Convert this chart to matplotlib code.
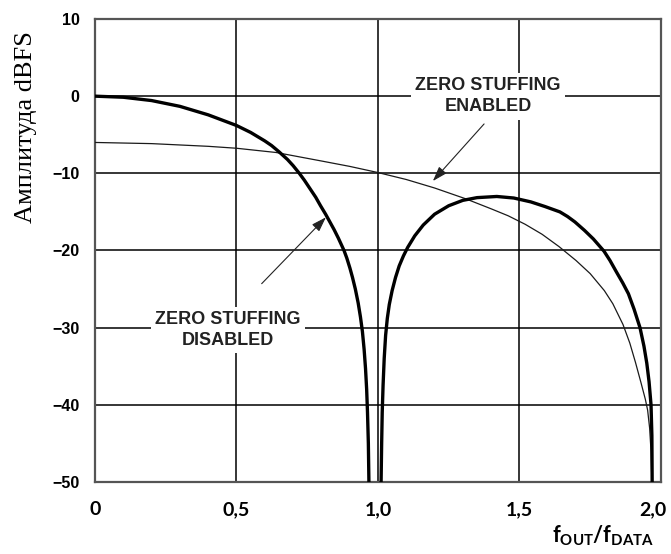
import matplotlib
matplotlib.use("Agg")
import matplotlib.pyplot as plt
import matplotlib.transforms as mtransforms
from matplotlib import rcParams

rcParams["mathtext.fontset"] = "custom"
rcParams["mathtext.bf"] = "Lato:bold"
rcParams["mathtext.rm"] = "Lato"

# zero stuffing disabled (thick), main lobe and second lobe
lobe1_x = [0, 0.1, 0.2, 0.3, 0.4, 0.5, 0.55, 0.6, 0.624, 0.65, 0.68, 0.70, 0.722, 0.74,
           0.76, 0.78, 0.797, 0.815, 0.83, 0.845, 0.86, 0.87, 0.88, 0.89, 0.901, 0.91,
           0.92, 0.93, 0.938, 0.945, 0.951, 0.956, 0.96, 0.963, 0.966, 0.968]
lobe1_db = [0, -0.14, -0.57, -1.32, -2.42, -3.8, -4.7, -5.8, -6.4, -7.2, -8.2, -9.0,
            -10.0, -10.9, -12.0, -13.1, -14.2, -15.3, -16.3, -17.3, -18.4, -19.2, -20.0,
            -21.0, -22.3, -23.5, -25.0, -26.8, -28.6, -30.5, -32.8, -35.3, -38, -41, -45,
            -50]
lobe2_x = [1.011, 1.013, 1.015, 1.018, 1.022, 1.027, 1.033, 1.04, 1.05, 1.062, 1.075,
           1.09, 1.105, 1.13, 1.16, 1.2, 1.25, 1.3, 1.35, 1.42, 1.48, 1.54, 1.59, 1.643,
           1.67, 1.696, 1.73, 1.761, 1.78, 1.799, 1.82, 1.843, 1.865, 1.885, 1.905, 1.926,
           1.94, 1.95, 1.958, 1.965, 1.968, 1.969]
lobe2_db = [-50, -45, -41, -37.5, -34, -31, -28.8, -27.0, -25.2, -23.5, -22.0, -20.7,
            -19.6, -18.1, -16.7, -15.3, -14.2, -13.5, -13.15, -13.0, -13.2, -13.7, -14.3,
            -15.0, -15.6, -16.3, -17.4, -18.5, -19.3, -20.1, -21.3, -22.8, -24.2, -25.6,
            -27.6, -30, -32.4, -34.6, -37, -40, -44, -50]

# zero stuffing enabled (thin)
enabled_x = [0, 0.2, 0.4, 0.5, 0.64, 0.8, 0.9, 1.0, 1.1, 1.2, 1.31, 1.4, 1.46, 1.52,
             1.58, 1.64, 1.7, 1.75, 1.8, 1.83, 1.866, 1.89, 1.91, 1.93, 1.945, 1.953,
             1.96, 1.965, 1.968]
enabled_db = [-6.0, -6.15, -6.5, -6.75, -7.3, -8.4, -9.1, -9.9, -10.8, -11.9, -13.3,
              -14.6, -15.5, -16.6, -17.9, -19.5, -21.3, -23.0, -25.2, -26.9, -29.6, -32.0,
              -34.5, -37.2, -39.3, -40.7, -43, -46, -50]

xticks = [0, 0.5, 1.0, 1.5, 2.0]
xtick_labels = ["0", "0,5", "1,0", "1,5", "2,0"]
yticks = [10, 0, -10, -20, -30, -40, -50]

fig = plt.figure(figsize=(6.71, 5.54), dpi=100)
ax = fig.add_axes([0.1416, 0.13, 0.8434, 0.8357])

ax.plot(enabled_x, enabled_db, color="#1a1a1a", lw=0.9, zorder=3)
ax.plot(lobe1_x, lobe1_db, color="black", lw=2.4, zorder=4, solid_joinstyle="round")
ax.plot(lobe2_x, lobe2_db, color="black", lw=2.4, zorder=4, solid_joinstyle="round")

ax.set_xlim(0, 2.0)
ax.set_ylim(-50, 10)
ax.set_xticks(xticks)
ax.set_xticklabels(xtick_labels, family="Lato", weight="bold", fontsize=14)
ax.set_yticks(yticks)
ax.set_yticklabels([str(v).replace("-", "\u2212") for v in yticks],
                   family="Liberation Sans", weight="bold", fontsize=11.5)
ax.tick_params(axis="both", length=0)
ax.tick_params(axis="y", pad=11)
ax.tick_params(axis="x", pad=14)
# keep the last x label inside the figure
last = ax.get_xticklabels()[-1]
last.set_transform(last.get_transform() +
                   mtransforms.ScaledTranslation(-6 / 72, 0, fig.dpi_scale_trans))
ax.grid(True, color="black", lw=1.1)
ax.set_axisbelow(True)
for s in ax.spines.values():
    s.set_color("#555555")
    s.set_linewidth(1.6)

ax.set_ylabel("Амплитуда dBFS", family="Liberation Serif", fontsize=19)
ax.yaxis.set_label_coords(-0.102, 0.767)

fig.text(0.822, 0.01, r"$\mathbf{f}_{\mathbf{OUT}}\mathbf{/f}_{\mathbf{DATA}}$",
         fontsize=15.5, ha="left", va="bottom")

box = dict(boxstyle="square,pad=0.25", fc="white", ec="none")
ax.text(1.389, 0.0, "ZERO STUFFING\nENABLED", ha="center", va="center",
        family="Liberation Sans", weight="bold", fontsize=13, color="#222222",
        linespacing=1.3, bbox=box, zorder=5)
ax.text(0.47, -30.3, "ZERO STUFFING\nDISABLED", ha="center", va="center",
        family="Liberation Sans", weight="bold", fontsize=13, color="#222222",
        linespacing=1.3, bbox=box, zorder=5)

arrow = dict(arrowstyle="-|>,head_length=0.9,head_width=0.3", color="#222222", lw=0.8,
             shrinkA=0, shrinkB=0)
ax.annotate("", xy=(1.194, -11.0), xytext=(1.375, -3.6), arrowprops=arrow, zorder=6)
ax.annotate("", xy=(0.816, -15.7), xytext=(0.589, -24.3), arrowprops=arrow, zorder=6)

fig.savefig("out.png", dpi=100, facecolor="white")
